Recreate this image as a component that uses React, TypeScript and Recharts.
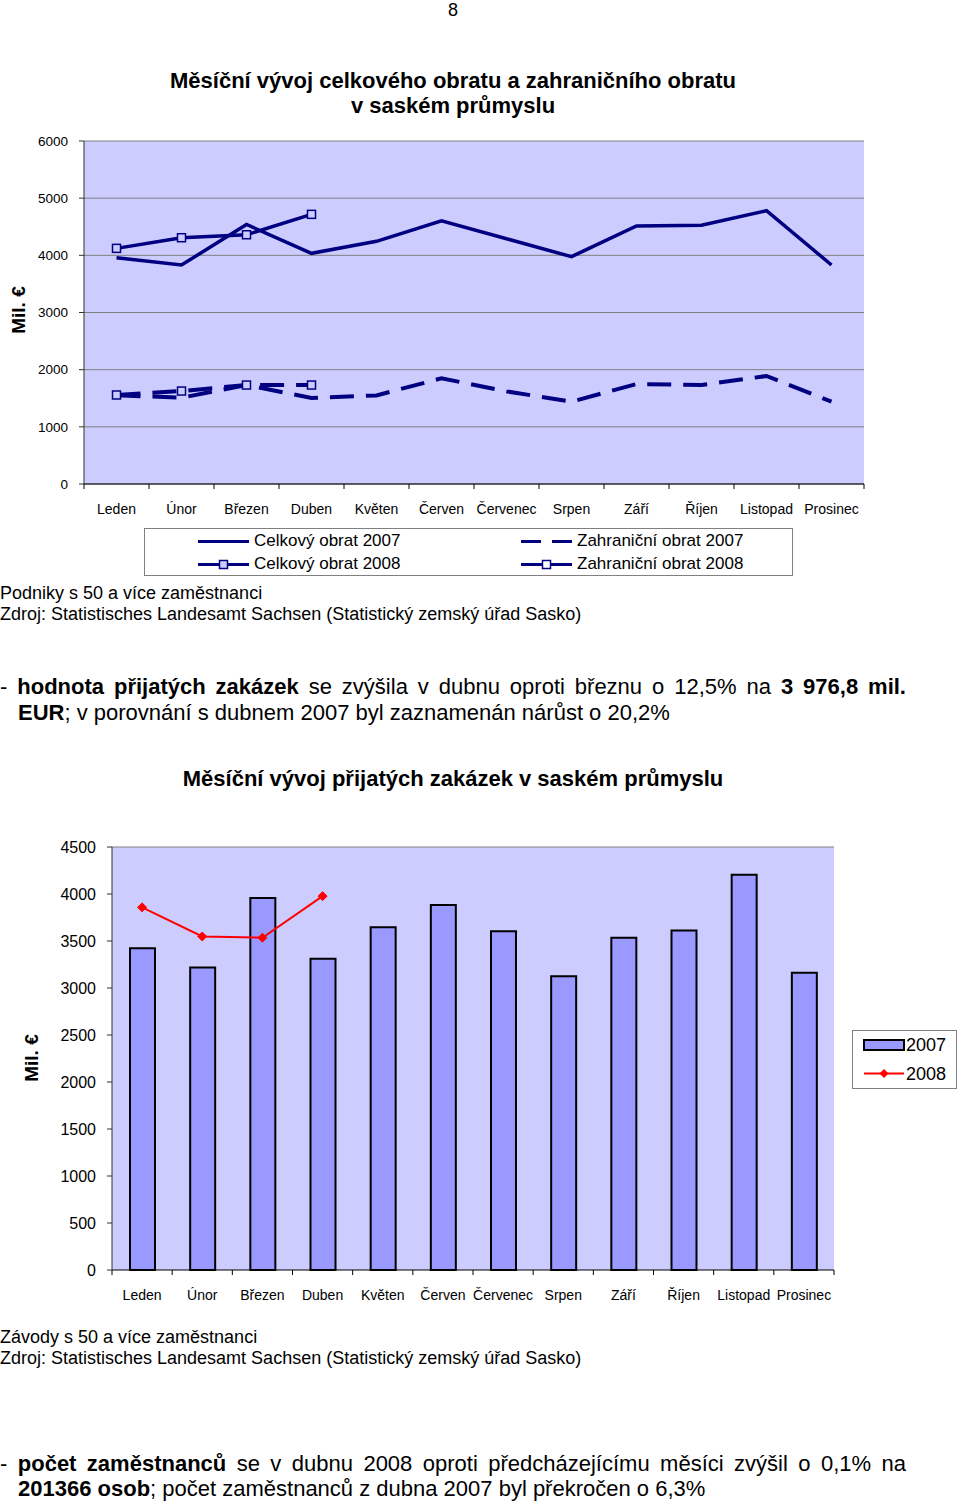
import React from 'react';
import {
  LineChart, Line, XAxis, YAxis, CartesianGrid, ComposedChart, Bar, ReferenceLine,
} from 'recharts';

const months = ['Leden', 'Únor', 'Březen', 'Duben', 'Květen', 'Červen', 'Červenec', 'Srpen', 'Září', 'Říjen', 'Listopad', 'Prosinec'];
const celkovy2007 = [3958, 3830, 4540, 4035, 4245, 4605, 4290, 3976, 4513, 4525, 4781, 3831];
const celkovy2008 = [4122, 4308, 4360, 4717];
const zahranicni2007 = [1552, 1510, 1732, 1505, 1550, 1849, 1620, 1440, 1749, 1732, 1889, 1440];
const zahranicni2008 = [1557, 1626, 1731, 1731];
const topTicks = [0, 1000, 2000, 3000, 4000, 5000, 6000];

const zakazky2007 = [3424, 3219, 3958, 3311, 3646, 3883, 3604, 3124, 3534, 3611, 4204, 3163];
const zakazky2008 = [3858, 3548, 3535, 3977];
const bottomTicks = [0, 500, 1000, 1500, 2000, 2500, 3000, 3500, 4000, 4500];

const topData = months.map((m, i) => ({
  month: m,
  c2007: celkovy2007[i],
  c2008: i < celkovy2008.length ? celkovy2008[i] : null,
  z2007: zahranicni2007[i],
  z2008: i < zahranicni2008.length ? zahranicni2008[i] : null,
}));

const bottomData = months.map((m, i) => ({
  month: m,
  v2007: zakazky2007[i],
  v2008: i < zakazky2008.length ? zakazky2008[i] : null,
}));

const FONT = '"Liberation Sans", Arial, Helvetica, sans-serif';
const NAVY = '#000080';

const makeCatTick = (fallbackHalf: number, fontSize: number, labelDy: number) => (props: any) => {
  const { x, y, payload, index, visibleTicksCount } = props;
  const half = payload && typeof payload.offset === 'number' && payload.offset > 0 ? payload.offset : fallbackHalf;
  const last = index === (visibleTicksCount ?? 12) - 1;
  return (
    <g>
      <line x1={x - half} x2={x - half} y1={y} y2={y + 5} stroke="#000" strokeWidth={1} />
      {last && <line x1={x + half} x2={x + half} y1={y} y2={y + 5} stroke="#000" strokeWidth={1} />}
      <text x={x} y={y + labelDy} textAnchor="middle" dominantBaseline="central" fontSize={fontSize} fontFamily={FONT} fill="#000">
        {payload.value}
      </text>
    </g>
  );
};

const SquareDot = (props: any) => {
  const { cx, cy, index } = props;
  if (cx == null || cy == null || isNaN(cy)) return <g key={`sq-${index}`} />;
  return <rect key={`sq-${index}`} x={cx - 4} y={cy - 4} width={8} height={8} fill="#CCCCFF" stroke={NAVY} strokeWidth={1.5} />;
};

const DiamondDot = (props: any) => {
  const { cx, cy, index } = props;
  if (cx == null || cy == null || isNaN(cy)) return <g key={`dm-${index}`} />;
  const r = 4.5;
  return (
    <polygon
      key={`dm-${index}`}
      points={`${cx},${cy - r} ${cx + r},${cy} ${cx},${cy + r} ${cx - r},${cy}`}
      fill="#FF0000"
      stroke="#FF0000"
      strokeWidth={1}
    />
  );
};

const Txt = ({ top, left = 0, size, bold = false, children, width, center = false, lh }: any) => (
  <div
    style={{
      position: 'absolute',
      top,
      left,
      width,
      fontSize: size,
      lineHeight: `${lh}px`,
      fontWeight: bold ? 'bold' : 'normal',
      textAlign: center ? 'center' : 'left',
      whiteSpace: 'nowrap',
      color: '#000',
    }}
  >
    {children}
  </div>
);

const Justified = ({ top, size, lh, children }: any) => (
  <div
    style={{
      position: 'absolute',
      top,
      left: 0,
      width: 906,
      fontSize: size,
      lineHeight: `${lh}px`,
      textAlign: 'justify',
      textAlignLast: 'justify' as any,
      color: '#000',
    }}
  >
    {children}
  </div>
);

const RotLabel = ({ cx, cy, size }: any) => (
  <div
    style={{
      position: 'absolute',
      left: cx - 40,
      top: cy - 12,
      width: 80,
      height: 24,
      lineHeight: '24px',
      textAlign: 'center',
      fontSize: size,
      fontWeight: 'bold',
      transform: 'rotate(-90deg)',
      whiteSpace: 'nowrap',
    }}
  >
    Mil. €
  </div>
);

export default function App() {
  return (
    <div style={{ position: 'absolute', left: 0, top: 0, width: 960, height: 1505, fontFamily: FONT, background: '#fff', overflow: 'hidden' }}>
      <Txt top={0} left={0} width={906} size={18} lh={20} center>8</Txt>
      <Txt top={67} left={0} width={906} size={22} lh={28} bold center>Měsíční vývoj celkového obratu a zahraničního obratu</Txt>
      <Txt top={92} left={0} width={906} size={22} lh={28} bold center>v saském průmyslu</Txt>

      <RotLabel cx={19} cy={310} size={19} />

      <div style={{ position: 'absolute', left: 0, top: 120 }}>
        <LineChart width={880} height={420} data={topData} margin={{ top: 21, right: 16, left: 0, bottom: 0 }}>
          <CartesianGrid vertical={false} horizontal stroke="#808080" strokeWidth={1} fill="#CCCCFF" fillOpacity={1} />
          <XAxis
            dataKey="month"
            height={56}
            interval={0}
            padding={{ left: 32.5, right: 32.5 }}
            axisLine={{ stroke: '#000', strokeWidth: 1 }}
            tickLine={false}
            tickSize={0}
            tickMargin={0}
            tick={makeCatTick(32.5, 14, 25)}
          />
          <YAxis
            width={84}
            domain={[0, 6000]}
            ticks={topTicks}
            interval={0}
            tickSize={5}
            tickMargin={11}
            axisLine={{ stroke: '#333', strokeWidth: 1 }}
            tickLine={{ stroke: '#333' }}
            tick={{ fontSize: 13.5, fill: '#000', fontFamily: FONT }}
          />
          <YAxis yAxisId="r" orientation="right" width={0} domain={[0, 6000]} tick={false} tickLine={false} axisLine={{ stroke: '#808080' }} />
          <Line dataKey="z2007" stroke={NAVY} strokeWidth={4} strokeDasharray="24 12" dot={false} isAnimationActive={false} />
          <Line dataKey="z2008" stroke={NAVY} strokeWidth={4} strokeDasharray="24 12" dot={<SquareDot />} isAnimationActive={false} />
          <Line dataKey="c2007" stroke={NAVY} strokeWidth={3.5} dot={false} isAnimationActive={false} />
          <Line dataKey="c2008" stroke={NAVY} strokeWidth={3.5} dot={<SquareDot />} isAnimationActive={false} />
        </LineChart>
      </div>

      {/* top legend */}
      <div style={{ position: 'absolute', left: 144, top: 528, width: 647, height: 46, border: '1px solid #808080', background: '#fff' }}>
        <svg width={647} height={46} style={{ position: 'absolute', left: 0, top: 0 }}>
          <line x1={53} x2={104} y1={12.5} y2={12.5} stroke={NAVY} strokeWidth={3} />
          <line x1={53} x2={104} y1={35.5} y2={35.5} stroke={NAVY} strokeWidth={3} />
          <rect x={74.5} y={31.5} width={8} height={8} fill="#CCCCFF" stroke={NAVY} strokeWidth={1.5} />
          <line x1={376} x2={427} y1={12.5} y2={12.5} stroke={NAVY} strokeWidth={3} strokeDasharray="20 11" />
          <line x1={376} x2={427} y1={35.5} y2={35.5} stroke={NAVY} strokeWidth={3} />
          <rect x={397.5} y={31.5} width={8} height={8} fill="#fff" stroke={NAVY} strokeWidth={1.5} />
        </svg>
        <Txt top={1} left={109} size={17} lh={22}>Celkový obrat 2007</Txt>
        <Txt top={24} left={109} size={17} lh={22}>Celkový obrat 2008</Txt>
        <Txt top={1} left={432} size={17} lh={22}>Zahraniční obrat 2007</Txt>
        <Txt top={24} left={432} size={17} lh={22}>Zahraniční obrat 2008</Txt>
      </div>

      <Txt top={582} left={0} size={18} lh={22}>Podniky s 50 a více zaměstnanci</Txt>
      <Txt top={603} left={0} size={18} lh={22}>Zdroj: Statistisches Landesamt Sachsen (Statistický zemský úřad Sasko)</Txt>

      <Justified top={673} size={22} lh={28}>
        - <b>hodnota přijatých zakázek</b> se zvýšila v dubnu oproti březnu o 12,5% na <b>3 976,8 mil.</b>
      </Justified>
      <Txt top={699} left={18} size={22} lh={28}><b>EUR</b>; v porovnání s dubnem 2007 byl zaznamenán nárůst o 20,2%</Txt>

      <Txt top={765} left={0} width={906} size={22} lh={28} bold center>Měsíční vývoj přijatých zakázek v saském průmyslu</Txt>

      <RotLabel cx={32} cy={1058} size={19} />

      <div style={{ position: 'absolute', left: 0, top: 830 }}>
        <ComposedChart width={850} height={480} data={bottomData} margin={{ top: 17, right: 16, left: 0, bottom: 0 }} barCategoryGap={0}>
          <CartesianGrid vertical={false} horizontal={false} fill="#CCCCFF" fillOpacity={1} />
          <XAxis
            dataKey="month"
            height={40}
            interval={0}
            axisLine={{ stroke: '#000', strokeWidth: 1 }}
            tickLine={false}
            tickSize={0}
            tickMargin={0}
            tick={makeCatTick(30.1, 14, 25)}
          />
          <YAxis
            width={112}
            domain={[0, 4500]}
            ticks={bottomTicks}
            interval={0}
            tickSize={5}
            tickMargin={11}
            axisLine={{ stroke: '#333', strokeWidth: 1 }}
            tickLine={{ stroke: '#333' }}
            tick={{ fontSize: 16, fill: '#000', fontFamily: FONT }}
          />
          <YAxis yAxisId="r" orientation="right" width={0} domain={[0, 4500]} tick={false} tickLine={false} axisLine={{ stroke: '#808080' }} />
          <ReferenceLine y={4500} stroke="#808080" strokeWidth={1} />
          <Bar dataKey="v2007" barSize={25} fill="#9999FF" stroke="#000" strokeWidth={2} isAnimationActive={false} />
          <Line dataKey="v2008" stroke="#FF0000" strokeWidth={2} dot={<DiamondDot />} isAnimationActive={false} />
        </ComposedChart>
      </div>

      {/* bottom legend */}
      <div style={{ position: 'absolute', left: 852, top: 1030, width: 103, height: 57, border: '1px solid #808080', background: '#fff' }}>
        <svg width={103} height={57} style={{ position: 'absolute', left: 0, top: 0 }}>
          <rect x={11} y={9} width={40} height={10} fill="#9999FF" stroke="#000" strokeWidth={2} />
          <line x1={11} x2={51} y1={42.5} y2={42.5} stroke="#FF0000" strokeWidth={2} />
          <polygon points="31,38 35.5,42.5 31,47 26.5,42.5" fill="#FF0000" />
        </svg>
        <Txt top={2} left={53} size={18} lh={24}>2007</Txt>
        <Txt top={31} left={53} size={18} lh={24}>2008</Txt>
      </div>

      <Txt top={1326} left={0} size={18} lh={22}>Závody s 50 a více zaměstnanci</Txt>
      <Txt top={1347} left={0} size={18} lh={22}>Zdroj: Statistisches Landesamt Sachsen (Statistický zemský úřad Sasko)</Txt>

      <Justified top={1450} size={22} lh={28}>
        - <b>počet zaměstnanců</b> se v dubnu 2008 oproti předcházejícímu měsíci zvýšil o 0,1% na
      </Justified>
      <Txt top={1475} left={18} size={22} lh={28}><b>201366 osob</b>; počet zaměstnanců z dubna 2007 byl překročen o 6,3%</Txt>
    </div>
  );
}
